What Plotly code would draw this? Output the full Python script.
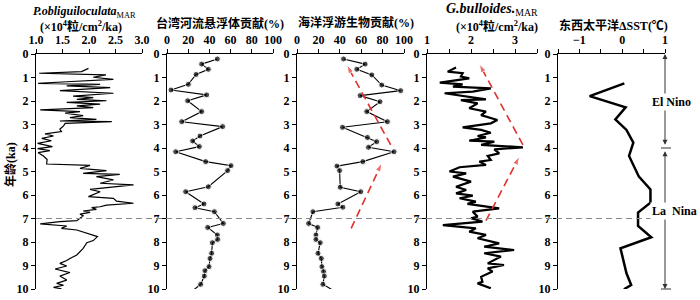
import plotly.graph_objects as go

# ---------------- data ----------------
# Panel 1: P.obliguiloculata MAR (x10^4 grains/cm2/ka) vs age (ka)
p1_age = [0.61, 0.75, 0.82, 0.85, 0.89, 0.99, 1.08, 1.18, 1.25, 1.29, 1.36, 1.43, 1.50, 1.56,
          1.67, 1.79, 1.86, 1.93, 1.99, 2.06, 2.13, 2.21, 2.28, 2.38, 2.45, 2.52, 2.62, 2.71,
          2.78, 2.85, 2.88, 2.95, 3.06, 3.20, 3.30, 3.40, 3.49, 3.59, 3.69, 3.80, 3.94, 4.03,
          4.11, 4.20, 4.34, 4.49, 4.68, 4.74, 4.87, 4.96, 5.08, 5.12, 5.22, 5.36, 5.50, 5.57,
          5.76, 5.86, 6.07, 6.14, 6.26, 6.35, 6.43, 6.50, 6.54, 6.61, 6.68, 6.74, 6.81, 6.89,
          6.99, 7.09, 7.13, 7.23, 7.32, 7.42, 7.49, 7.63, 7.77, 7.94, 8.03, 8.27, 8.41, 8.55,
          8.70, 8.79, 8.91, 9.02, 9.15, 9.30, 9.45, 9.62, 9.76, 9.84, 9.93, 9.99]
p1_val = [1.99, 1.86, 1.06, 1.74, 2.32, 2.08, 2.46, 1.58, 1.04, 2.21, 1.58, 2.40, 1.83, 1.45,
          2.46, 1.70, 2.08, 1.77, 2.33, 1.58, 2.21, 1.77, 2.08, 1.08, 1.83, 1.55, 1.89, 1.64,
          2.14, 1.45, 2.43, 1.55, 1.52, 1.45, 1.48, 1.17, 1.33, 1.11, 1.29, 1.03, 1.31, 1.03,
          1.26, 1.04, 1.14, 1.21, 1.20, 2.02, 1.83, 2.33, 1.89, 2.58, 2.14, 2.46, 2.21, 2.84,
          2.02, 2.21, 1.99, 2.46, 2.52, 2.84, 2.33, 2.21, 2.05, 2.14, 1.89, 2.02, 1.83, 1.89,
          1.83, 1.77, 1.45, 1.08, 1.58, 1.48, 1.77, 1.96, 2.16, 2.08, 1.96, 1.89, 1.83, 1.77,
          1.64, 1.58, 1.45, 1.58, 1.36, 1.64, 1.45, 1.58, 1.39, 1.52, 1.33, 1.48]

# Panel 2: Taiwan river suspended matter contribution (%)
p2_age = [0.21, 0.43, 0.65, 0.87, 1.29, 1.53, 1.74, 1.99, 2.45, 2.88, 3.09, 3.49, 3.70, 3.94,
          4.16, 4.58, 4.75, 4.96, 5.65, 5.86, 6.38, 6.54, 6.71, 7.21, 7.38, 7.70, 7.89, 8.03,
          8.48, 8.70, 9.05, 9.22, 9.45, 9.80, 10.05]
p2_val = [47.5, 32.7, 39.0, 27.4, 20.1, 3.8, 37.4, 19.5, 32.7, 13.9, 52.5, 31.1, 24.2, 30.5,
          8.2, 36.5, 60.4, 57.2, 39.0, 17.6, 34.9, 26.4, 44.7, 53.1, 38.4, 47.5, 47.8, 42.8,
          42.1, 40.6, 39.6, 35.8, 35.2, 31.8, 24.8]

# Panel 3: marine plankton contribution (%)
p3_age = [0.21, 0.43, 0.65, 0.89, 1.32, 1.56, 1.77, 2.03, 2.45, 2.88, 3.12, 3.55, 3.73, 3.97,
          4.16, 4.58, 4.77, 4.96, 5.67, 5.86, 6.38, 6.52, 6.71, 7.21, 7.38, 7.70, 7.89, 8.03,
          8.48, 8.70, 9.05, 9.26, 9.45, 9.80, 10.05]
p3_val = [43.5, 63.7, 55.9, 69.9, 79.2, 96.9, 59.0, 77.6, 65.2, 84.5, 42.5, 65.8, 74.5, 66.8,
          90.7, 61.5, 37.3, 39.8, 40.4, 59.6, 38.2, 42.9, 14.9, 10.9, 19.3, 17.7, 17.7, 21.7,
          19.6, 22.7, 23.3, 24.8, 25.5, 24.2, 33.5]

# Panel 4: G.bulloides MAR
p4_age = [0.57, 0.75, 0.82, 0.96, 1.04, 1.22, 1.29, 1.39, 1.46, 1.60, 1.67, 1.93, 1.96, 2.10,
          2.31, 2.45, 2.60, 2.81, 2.95, 3.12, 3.23, 3.35, 3.49, 3.55, 3.69, 3.73, 3.87, 3.97,
          4.06, 4.23, 4.34, 4.51, 4.58, 4.72, 4.82, 5.00, 5.08, 5.22, 5.43, 5.65, 5.79, 5.93,
          6.03, 6.14, 6.28, 6.38, 6.57, 6.71, 6.92, 6.99, 7.13, 7.28, 7.42, 7.56, 7.70, 7.84,
          8.06, 8.20, 8.34, 8.48, 8.62, 8.91, 8.98, 9.12, 9.26, 9.48, 9.69, 9.76, 9.97]
p4_val = [1.66, 1.47, 1.81, 1.77, 1.96, 1.29, 1.81, 1.59, 2.45, 2.04, 1.40, 2.34, 1.77, 2.15,
          1.96, 2.34, 2.23, 2.60, 2.45, 1.81, 2.23, 2.45, 2.15, 2.34, 1.96, 2.53, 2.23, 3.18,
          2.53, 2.64, 2.38, 2.45, 2.19, 2.34, 1.74, 1.51, 1.89, 1.59, 2.00, 1.66, 1.89, 1.66,
          2.04, 1.74, 2.11, 1.92, 2.64, 2.04, 2.15, 2.00, 2.26, 1.36, 2.11, 1.96, 2.34, 2.15,
          2.64, 2.30, 2.98, 2.30, 2.68, 2.38, 2.75, 2.38, 2.49, 2.23, 2.26, 2.15, 2.45]

# Panel 5: East-West Pacific delta SST (deg C)
p5_age = [1.25, 1.79, 2.27, 2.78, 3.23, 3.77, 4.34, 5.22, 5.76, 6.33, 6.75, 7.32, 7.80, 8.27,
          9.33, 9.83, 10.01]
p5_val = [0.05, -0.76, 0.08, -0.16, 0.10, 0.26, 0.16, 0.39, 0.66, 0.66, 0.37, 0.37, 0.68, -0.04,
          0.10, 0.21, 0.04]

age_ticks = list(range(0, 11))
p1_ticks = [1.0, 1.5, 2.0, 2.5, 3.0]
pct_ticks = [0, 20, 40, 60, 80, 100]
p4_ticks = [1, 2, 3]
p5_ticks = [-1, 0, 1]

# ---------------- layout geometry ----------------
W, H = 700, 300
TOP_PX, BOT_PX = 54, 289
Y_TOP, Y_BOT = 1 - TOP_PX / H, 1 - BOT_PX / H
panels_px = [(36, 142), (167, 273), (297, 404), (427, 537), (558, 665)]
ranges = [[1, 3], [0, 100], [0, 100], [1, 3.5], [-1.5, 1]]

def px(x):
    return x / W

def py(y):
    return 1 - y / H

def yka(ka):
    return Y_TOP - (Y_TOP - Y_BOT) * ka / 10

SERIF = "Liberation Serif, Noto Sans CJK SC"
TICKFONT = dict(family=SERIF, size=12, color="black", weight="bold")

fig = go.Figure()

fig.add_trace(go.Scatter(x=p1_val, y=p1_age, mode="lines", xaxis="x", yaxis="y",
                         line=dict(color="black", width=1.2)))
for vals, ages, ax in [(p2_val, p2_age, "2"), (p3_val, p3_age, "3")]:
    sizes = [6] * (len(vals) - 1) + [0]
    fig.add_trace(go.Scatter(x=vals, y=ages, mode="lines+markers", xaxis="x" + ax, yaxis="y" + ax,
                             line=dict(color="black", width=1.1),
                             marker=dict(color="black", size=sizes), cliponaxis=False))
fig.add_trace(go.Scatter(x=p4_val, y=p4_age, mode="lines", xaxis="x4", yaxis="y4",
                         line=dict(color="black", width=2.2)))
fig.add_trace(go.Scatter(x=p5_val, y=p5_age, mode="lines", xaxis="x5", yaxis="y5",
                         line=dict(color="black", width=2.5)))

# red dashed trend arrows
RED = "#e2312b"
arrows = [
    ("3", [50.6, 79.2], [7.42, 4.65]),
    ("3", [87.6, 46.6], [3.87, 0.47]),
    ("4", [2.34, 3.10], [7.09, 4.37]),
    ("4", [3.18, 2.19], [3.87, 0.43]),
]
for ax, xs, ys in arrows:
    fig.add_trace(go.Scatter(x=xs, y=ys, mode="lines+markers", xaxis="x" + ax, yaxis="y" + ax,
                             line=dict(color=RED, width=1.6, dash="8px,5px"),
                             marker=dict(symbol="arrow", angleref="previous", size=[0, 9],
                                         color=RED), cliponaxis=False))

layout = dict(width=W, height=H, margin=dict(l=0, r=0, t=0, b=0, autoexpand=False),
              paper_bgcolor="white", plot_bgcolor="white", showlegend=False)
tickvals_list = [p1_ticks, pct_ticks, pct_ticks, p4_ticks, p5_ticks]
for i in range(5):
    s = "" if i == 0 else str(i + 1)
    xa = dict(domain=[px(panels_px[i][0]), px(panels_px[i][1])], range=ranges[i],
              side="top", anchor="y" + s, showline=True, linecolor="black", linewidth=1,
              ticks="outside", ticklen=4, tickcolor="black", tickwidth=1, automargin=False,
              tickvals=tickvals_list[i], showgrid=False, zeroline=False, tickfont=TICKFONT)
    if i == 0:
        xa["tickformat"] = ".1f"
    if i in (3, 4):
        xa["minor"] = dict(dtick=0.5, tick0=0, ticks="outside", ticklen=4, tickcolor="black",
                           showgrid=False)
    ya = dict(domain=[Y_BOT, Y_TOP], range=[10, 0], anchor="x" + s, showline=True,
              linecolor="black", linewidth=1, ticks="outside", ticklen=4, tickcolor="black",
              automargin=False,
              tickvals=age_ticks, showgrid=False, zeroline=False, tickfont=TICKFONT)
    layout["xaxis" + s] = xa
    layout["yaxis" + s] = ya
fig.update_layout(**layout)

# titles
def title(text, x, y, size=12, **kw):
    fig.add_annotation(text=text, x=px(x), y=py(y), xref="paper", yref="paper",
                       showarrow=False, font=dict(family=SERIF, size=size, color="black"),
                       xanchor="center", yanchor="middle", **kw)

title("<b><i>P.obliguiloculata</i></b><sub>MAR</sub>", 84, 12)
title("<b>(×10<sup>4</sup>粒/cm<sup>2</sup>/ka)</b>", 81, 27)
title("<b>台湾河流悬浮体贡献(%)</b>", 220, 23)
title("<b>海洋浮游生物贡献(%)</b>", 356, 22)
title("<b><i>G.bulloides.</i></b><sub>MAR</sub>", 492, 9, size=14)
title("<b>(×10<sup>4</sup>粒/cm<sup>2</sup>/ka)</b>", 497, 26)
title("<b>东西太平洋ΔSST(℃)</b>", 613, 25)
title("<b>年龄(ka)</b>", 10, 165, textangle=-90)

# dashed horizontal line at 7 ka
fig.add_shape(type="line", xref="paper", yref="paper", x0=px(36), x1=px(673),
              y0=yka(7), y1=yka(7), line=dict(color="#8a8a8a", width=1.2, dash="6px,4px"))

# El Nino / La Nina range arrows
AC = "#333333"
for y0, y1 in [(0, 3.93), (10, 4.07)]:
    fig.add_annotation(x=1, y=y0, ax=1, ay=y1, xref="x5", yref="y5", axref="x5", ayref="y5",
                       text="", showarrow=True, arrowhead=2, arrowside="end+start",
                       arrowsize=1, arrowwidth=1, arrowcolor=AC, standoff=0, startstandoff=0)
for ka in (4.0, 10.0):
    fig.add_shape(type="line", xref="paper", yref="paper", x0=px(661), x1=px(671),
                  y0=yka(ka), y1=yka(ka), line=dict(color=AC, width=1))
fig.add_annotation(x=1, y=2.06, xref="x5", yref="y5", text="<b>El Nino</b>", showarrow=False,
                   xshift=6, bgcolor="white", font=dict(family=SERIF, size=12, color="black"))
fig.add_annotation(x=1, y=6.68, xref="x5", yref="y5", text="<b>La  Nina</b>", showarrow=False,
                   xshift=9, bgcolor="white", font=dict(family=SERIF, size=12, color="black"))

fig.write_html("out.html", config={"displayModeBar": False},
               post_script="document.body.style.margin='0px';")
